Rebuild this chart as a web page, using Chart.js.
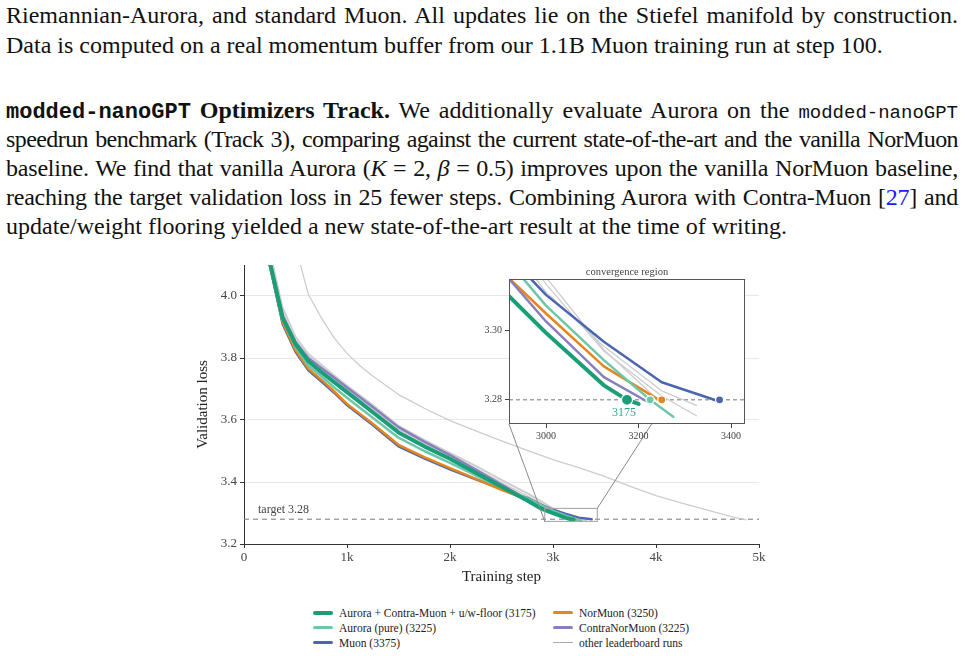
<!DOCTYPE html>
<html>
<head>
<meta charset="utf-8">
<script src="https://cdn.jsdelivr.net/npm/chart.js@4.4.1/dist/chart.umd.min.js"></script>
<style>
  body { margin: 0; background: #fff; width: 965px; height: 656px; overflow: hidden; position: relative;
         font-family: 'Liberation Serif', 'Times New Roman', serif; color: #111; }
  .ln { position: absolute; left: 6px; width: 952px; font-size: 24px; line-height: 29px; white-space: nowrap; }
  .j { text-align: justify; text-align-last: justify; }
  .tt { font-family: 'Liberation Mono', 'DejaVu Sans Mono', monospace; font-weight: bold; font-size: 22px; }
  .tt2 { font-family: 'Liberation Mono', 'DejaVu Sans Mono', monospace; font-size: 19px; }
  .cite { color: #1a1aff; }
  #mainBox { position: absolute; left: 190px; top: 262px; width: 580px; height: 330px; }
  #insetBox { position: absolute; left: 470px; top: 262px; width: 285px; height: 185px; }
  #legend { position: absolute; left: 313px; top: 605px; display: grid; grid-template-columns: 240px auto;
            grid-auto-rows: 15px; font-size: 11.5px; color: #222; }
  .lg { display: flex; align-items: center; white-space: nowrap; }
  .lg span.s { display: inline-block; width: 20px; margin-right: 6px; border-radius: 2px; }
</style>
</head>
<body>
<div class="ln j" style="top:1px">Riemannian-Aurora, and standard Muon. All updates lie on the Stiefel manifold by construction.</div>
<div class="ln" style="top:31px">Data is computed on a real momentum buffer from our 1.1B Muon training run at step 100.</div>
<div class="ln j" style="top:96px"><span class="tt">modded-nanoGPT</span> <b>Optimizers Track.</b> We additionally evaluate Aurora on the <span class="tt2">modded-nanoGPT</span></div>
<div class="ln j" style="top:125px">speedrun benchmark (Track 3), comparing against the current state-of-the-art and the vanilla NorMuon</div>
<div class="ln j" style="top:154px">baseline. We find that vanilla Aurora (<i>K</i> = 2, <i>β</i> = 0.5) improves upon the vanilla NorMuon baseline,</div>
<div class="ln j" style="top:183px">reaching the target validation loss in 25 fewer steps. Combining Aurora with Contra-Muon [<span class="cite">27</span>] and</div>
<div class="ln" style="top:212px">update/weight flooring yielded a new state-of-the-art result at the time of writing.</div>

<div id="mainBox"><canvas id="mainChart"></canvas></div>
<div id="insetBox"><canvas id="insetChart"></canvas></div>
<div id="legend"></div>

<script>
// tighten letters a little on justified lines that are too long for the measure
document.querySelectorAll('.ln.j').forEach(el => {
  const over = el.scrollWidth - el.clientWidth;
  if (over > 0) {
    const chars = el.textContent.replace(/ /g, '').length;
    el.style.letterSpacing = (-(over + 14) / chars).toFixed(3) + 'px';
  }
});

const serif = "'Liberation Serif', 'Times New Roman', serif";

// axes
const stepTicks = [0, 1000, 2000, 3000, 4000, 5000];
const stepTickLabels = ['0', '1k', '2k', '3k', '4k', '5k'];
const lossTicks = [3.2, 3.4, 3.6, 3.8, 4.0];
const insetStepTicks = [3000, 3200, 3400];
const insetLossTicks = [3.28, 3.30];
const insetStepRange = [2920, 3430];
const insetLossRange = [3.273, 3.315];
const targetLoss = 3.28;

// runs (validation loss)
const auroraContraSteps = [250, 375, 500, 625, 750, 875, 1000, 1250, 1500, 1750, 2000, 2250, 2500, 2750, 2875, 3000, 3125, 3175, 3200];
const auroraContraLoss  = [4.11, 3.93, 3.845, 3.79, 3.755, 3.722, 3.69, 3.625, 3.56, 3.515, 3.475, 3.43, 3.385, 3.34, 3.316, 3.2994, 3.2842, 3.2800, 3.2788];

const auroraPureSteps = [250, 375, 500, 625, 750, 875, 1000, 1250, 1500, 1750, 2000, 2250, 2500, 2750, 2875, 3000, 3125, 3225, 3275];
const auroraPureLoss  = [4.11, 3.925, 3.835, 3.775, 3.742, 3.705, 3.672, 3.607, 3.543, 3.50, 3.462, 3.421, 3.383, 3.347, 3.327, 3.3073, 3.2915, 3.2800, 3.2751];

const contraNorMuonSteps = [250, 375, 500, 625, 750, 875, 1000, 1250, 1500, 1750, 2000, 2250, 2500, 2750, 2875, 3000, 3125, 3225];
const contraNorMuonLoss  = [4.11, 3.935, 3.852, 3.80, 3.768, 3.737, 3.705, 3.642, 3.577, 3.53, 3.487, 3.44, 3.392, 3.345, 3.322, 3.3027, 3.2866, 3.2790];

const norMuonSteps = [250, 375, 500, 625, 750, 875, 1000, 1250, 1500, 1750, 2000, 2250, 2500, 2750, 2875, 3000, 3125, 3250];
const norMuonLoss  = [4.10, 3.915, 3.825, 3.765, 3.73, 3.692, 3.652, 3.588, 3.52, 3.48, 3.445, 3.41, 3.375, 3.343, 3.321, 3.305, 3.2897, 3.2795];

const muonSteps = [250, 375, 500, 625, 750, 875, 1000, 1250, 1500, 1750, 2000, 2250, 2500, 2750, 2875, 3000, 3125, 3250, 3375];
const muonLoss  = [4.10, 3.91, 3.82, 3.76, 3.725, 3.688, 3.648, 3.584, 3.515, 3.476, 3.441, 3.409, 3.378, 3.349, 3.328, 3.3104, 3.2968, 3.2851, 3.2795];

const otherASteps = [250, 375, 500, 625, 750, 875, 1000, 1250, 1500, 1750, 2000, 2250, 2500, 2750, 2875, 3000, 3125, 3250, 3325];
const otherALoss  = [4.13, 3.95, 3.855, 3.80, 3.765, 3.73, 3.698, 3.635, 3.57, 3.525, 3.485, 3.443, 3.398, 3.355, 3.333, 3.3112, 3.2955, 3.2826, 3.2784];
const otherBSteps = [250, 375, 500, 625, 750, 875, 1000, 1250, 1500, 1750, 2000, 2250, 2500, 2750, 2875, 3000, 3125, 3250, 3325];
const otherBLoss  = [4.14, 3.96, 3.865, 3.81, 3.775, 3.74, 3.707, 3.645, 3.578, 3.533, 3.492, 3.45, 3.405, 3.362, 3.338, 3.3135, 3.2941, 3.2811, 3.2754];
const otherCSteps = [250, 375, 500, 625, 750, 875, 1000, 1250, 1500, 1750, 2000, 2250, 2500, 2750, 2875, 3000, 3125, 3250];
const otherCLoss  = [4.15, 3.965, 3.87, 3.815, 3.78, 3.745, 3.712, 3.65, 3.582, 3.537, 3.495, 3.453, 3.408, 3.365, 3.341, 3.3155, 3.2945, 3.2790];
const otherSlowSteps = [250, 500, 625, 750, 875, 1000, 1125, 1250, 1375, 1500, 1625, 1750, 2000, 2250, 2500, 2750, 3000, 3250, 3500, 3750, 4000, 4250, 4500, 4750, 4875];
const otherSlowLoss  = [4.75, 4.16, 4.005, 3.93, 3.865, 3.815, 3.775, 3.742, 3.712, 3.682, 3.66, 3.638, 3.598, 3.565, 3.533, 3.502, 3.472, 3.446, 3.418, 3.386, 3.356, 3.332, 3.309, 3.287, 3.278];

// step at which each run first hits the target
const finishSteps = [3375, 3250, 3225, 3225, 3175];

const gray = '#cdcdcd';
const series = [
  { label: 'Aurora + Contra-Muon + u/w-floor (3175)', steps: auroraContraSteps, loss: auroraContraLoss, color: '#1b9e77', width: 4 },
  { label: 'Aurora (pure) (3225)', steps: auroraPureSteps, loss: auroraPureLoss, color: '#6cc7a8', width: 2.5 },
  { label: 'ContraNorMuon (3225)', steps: contraNorMuonSteps, loss: contraNorMuonLoss, color: '#8a7fbd', width: 2.5 },
  { label: 'NorMuon (3250)', steps: norMuonSteps, loss: norMuonLoss, color: '#e5851b', width: 2.5 },
  { label: 'Muon (3375)', steps: muonSteps, loss: muonLoss, color: '#4a66b0', width: 2.5 },
  { label: 'other leaderboard runs', steps: otherASteps, loss: otherALoss, color: gray, width: 1.3 },
  { label: '', steps: otherBSteps, loss: otherBLoss, color: gray, width: 1.3 },
  { label: '', steps: otherCSteps, loss: otherCLoss, color: gray, width: 1.3 },
  { label: '', steps: otherSlowSteps, loss: otherSlowLoss, color: gray, width: 1.3 }
];
const finishColors = ['#4a66b0', '#e5851b', '#8a7fbd', '#6cc7a8', '#1b9e77'];
const finishRadius = [4, 4, 4, 4, 5.5];
const legendColumns = [[0, 1, 4], [3, 2, 5]];

function lineSets() {
  return series.map(s => ({
    label: s.label,
    data: s.steps.map((st, i) => ({ x: st, y: s.loss[i] })),
    borderColor: s.color,
    borderWidth: s.width,
    pointRadius: 0,
    tension: 0,
    fill: false,
    borderJoinStyle: 'round',
    borderCapStyle: 'round'
  }));
}

const tickFont = size => ({ family: serif, size: size, weight: 'normal' });

const insetDecor = {
  id: 'insetDecor',
  beforeDraw(chart) {
    const { ctx, chartArea: a } = chart;
    ctx.save();
    ctx.fillStyle = '#fff';
    ctx.fillRect(a.left, a.top, a.right - a.left, a.bottom - a.top);
    ctx.restore();
  },
  beforeDatasetsDraw(chart) {
    const { ctx, chartArea: a, scales: { y } } = chart;
    const ty = y.getPixelForValue(targetLoss);
    ctx.save();
    ctx.strokeStyle = '#777';
    ctx.lineWidth = 1;
    ctx.setLineDash([4, 3]);
    ctx.beginPath();
    ctx.moveTo(a.left, ty);
    ctx.lineTo(a.right, ty);
    ctx.stroke();
    ctx.restore();
  },
  afterDraw(chart) {
    const { ctx, chartArea: a, scales: { x, y } } = chart;
    ctx.save();
    ctx.strokeStyle = '#555';
    ctx.lineWidth = 1;
    ctx.strokeRect(a.left + 0.5, a.top + 0.5, a.right - a.left - 1, a.bottom - a.top - 1);
    ctx.fillStyle = '#444';
    ctx.font = `10.5px ${serif}`;
    ctx.textAlign = 'center';
    ctx.textBaseline = 'bottom';
    ctx.fillText('convergence region', (a.left + a.right) / 2, a.top - 2);
    const best = finishSteps[finishSteps.length - 1];
    ctx.fillStyle = '#2ea787';
    ctx.font = `12px ${serif}`;
    ctx.textBaseline = 'top';
    ctx.fillText(String(best), x.getPixelForValue(best) - 3, y.getPixelForValue(targetLoss) + 7);
    ctx.restore();
  }
};

const insetSets = lineSets();
insetSets.push({
  type: 'scatter',
  label: '',
  data: finishSteps.map(st => ({ x: st, y: targetLoss })),
  pointRadius: finishRadius,
  pointBackgroundColor: finishColors,
  pointBorderColor: '#fff',
  pointBorderWidth: 1.2,
  showLine: false,
  order: -1
});

const insetChart = new Chart(document.getElementById('insetChart'), {
  type: 'line',
  data: { datasets: insetSets },
  options: {
    responsive: true,
    maintainAspectRatio: false,
    animation: false,
    devicePixelRatio: 1,
    layout: { padding: { left: 0, right: 10, top: 17, bottom: 0 } },
    plugins: { legend: { display: false }, tooltip: { enabled: false } },
    scales: {
      x: {
        type: 'linear', min: insetStepRange[0], max: insetStepRange[1],
        afterBuildTicks: s => { s.ticks = insetStepTicks.map(v => ({ value: v })); },
        afterFit: s => { s.height = 23; s.paddingLeft = 0; s.paddingRight = 0; },
        grid: { drawOnChartArea: false, tickLength: 4, tickColor: '#444' },
        border: { display: false },
        ticks: { font: tickFont(10), color: '#444', padding: 2, maxRotation: 0, autoSkip: false, callback: v => String(v) }
      },
      y: {
        type: 'linear', min: insetLossRange[0], max: insetLossRange[1],
        afterBuildTicks: s => { s.ticks = insetLossTicks.map(v => ({ value: v })); },
        afterFit: s => { s.width = 39; s.paddingTop = 0; s.paddingBottom = 0; },
        grid: { drawOnChartArea: false, tickLength: 4, tickColor: '#444' },
        border: { display: false },
        ticks: { font: tickFont(10), color: '#444', padding: 3, callback: v => v.toFixed(2) }
      }
    }
  },
  plugins: [insetDecor]
});

const mainBox = document.getElementById('mainBox');
const insetBox = document.getElementById('insetBox');

const mainDecor = {
  id: 'mainDecor',
  beforeDatasetsDraw(chart) {
    const { ctx, chartArea: a, scales: { y } } = chart;
    const ty = y.getPixelForValue(targetLoss);
    ctx.save();
    ctx.strokeStyle = '#777';
    ctx.lineWidth = 1;
    ctx.setLineDash([5, 4]);
    ctx.beginPath();
    ctx.moveTo(a.left, ty);
    ctx.lineTo(a.right, ty);
    ctx.stroke();
    ctx.setLineDash([]);
    ctx.fillStyle = '#444';
    ctx.font = `12px ${serif}`;
    ctx.textBaseline = 'bottom';
    ctx.fillText('target ' + targetLoss.toFixed(2), a.left + 14, ty - 3);
    ctx.restore();
  },
  afterDatasetsDraw(chart) {
    const { ctx, scales: { x, y } } = chart;
    const x0 = x.getPixelForValue(insetStepRange[0]);
    const x1 = x.getPixelForValue(insetStepRange[1]);
    const y0 = y.getPixelForValue(insetLossRange[1]);
    const y1 = y.getPixelForValue(insetLossRange[0]);
    ctx.save();
    ctx.strokeStyle = '#a0a0a0';
    ctx.lineWidth = 1;
    ctx.strokeRect(x0, y0, x1 - x0, y1 - y0);
    const ia = insetChart.chartArea;
    const ox = insetBox.offsetLeft - mainBox.offsetLeft;
    const oy = insetBox.offsetTop - mainBox.offsetTop;
    ctx.strokeStyle = '#888';
    ctx.beginPath();
    ctx.moveTo(x0, y1);
    ctx.lineTo(ox + ia.left, oy + ia.bottom);
    ctx.moveTo(x1, y0);
    ctx.lineTo(ox + ia.right, oy + ia.top);
    ctx.stroke();
    ctx.restore();
  }
};

const mainChart = new Chart(document.getElementById('mainChart'), {
  type: 'line',
  data: { datasets: lineSets() },
  options: {
    responsive: true,
    maintainAspectRatio: false,
    animation: false,
    devicePixelRatio: 1,
    layout: { padding: { left: 0, right: 11, top: 3, bottom: 0 } },
    plugins: { legend: { display: false }, tooltip: { enabled: false } },
    scales: {
      x: {
        type: 'linear', min: 0, max: 5000,
        afterBuildTicks: s => { s.ticks = stepTicks.map(v => ({ value: v })); },
        afterFit: s => { s.height = 48; },
        grid: { drawOnChartArea: false, tickLength: 4, tickColor: '#333' },
        border: { color: '#333', width: 1 },
        ticks: { font: tickFont(13), color: '#444', padding: 2, maxRotation: 0, autoSkip: false,
                 callback: v => stepTickLabels[stepTicks.indexOf(v)] },
        title: { display: true, text: 'Training step', color: '#222', font: tickFont(15), padding: { top: 0, bottom: 6 } }
      },
      y: {
        type: 'linear', min: 3.2, max: 4.1,
        afterBuildTicks: s => { s.ticks = lossTicks.map(v => ({ value: v })); },
        afterFit: s => { s.width = 54; s.paddingTop = 0; },
        grid: { color: '#e8e8e8', lineWidth: 1, tickLength: 4, tickColor: '#333' },
        border: { color: '#333', width: 1 },
        ticks: { font: tickFont(13), color: '#444', padding: 3, callback: v => v.toFixed(1) },
        title: { display: true, text: 'Validation loss', color: '#222', font: tickFont(15), padding: { top: 4, bottom: 0 } }
      }
    }
  },
  plugins: [mainDecor]
});

// legend, two columns like the figure
const legendBox = document.getElementById('legend');
for (let r = 0; r < 3; r++) {
  for (let c = 0; c < 2; c++) {
    const s = series[legendColumns[c][r]];
    const item = document.createElement('div');
    item.className = 'lg';
    const swatch = document.createElement('span');
    swatch.className = 's';
    swatch.style.height = Math.max(1, s.width) + 'px';
    swatch.style.background = s.color === gray ? '#aaa' : s.color;
    item.appendChild(swatch);
    item.appendChild(document.createTextNode(s.label));
    legendBox.appendChild(item);
  }
}
</script>
</body>
</html>
